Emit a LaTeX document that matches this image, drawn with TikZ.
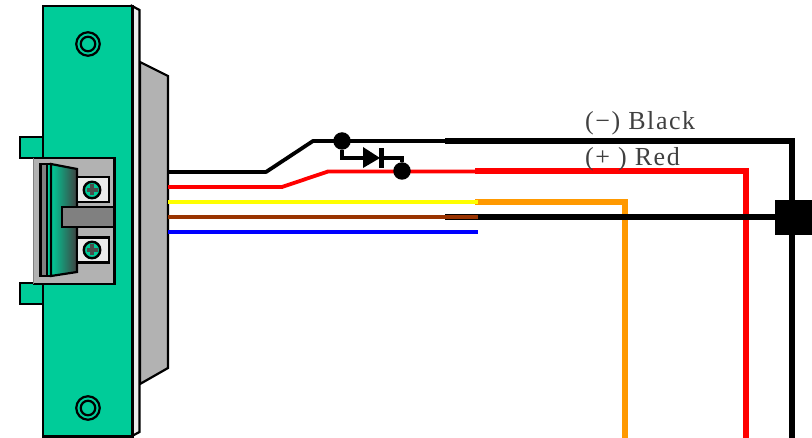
\documentclass[tikz,border=0pt]{standalone}
\usepackage{fontspec}
\setmainfont{Liberation Serif}
\newfontfamily\lblfont[LetterSpace=6]{Liberation Serif}
\definecolor{plate}{HTML}{00CC99}
\definecolor{silver}{HTML}{B2B2B2}
\definecolor{midgray}{HTML}{808080}
\definecolor{pale}{HTML}{EAEAEA}
\definecolor{wbrown}{HTML}{993300}
\definecolor{worange}{HTML}{FF9900}
\definecolor{wred}{HTML}{FF0000}
\definecolor{wyellow}{HTML}{FFFF00}
\definecolor{wblue}{HTML}{0000FF}
\tikzset{
  part/.style={draw=black,line width=2.2pt,miter limit=10},
  thinwire/.style={line width=3.8pt,line join=bevel},
  thickwire/.style={line width=6pt,line join=miter},
  junction/.style={circle,fill=black,inner sep=0pt,minimum size=17.5pt},
  ring/.style={circle,draw=black,line width=2.2pt,inner sep=0pt,fill=plate},
  screwhead/.style={circle,draw=black,line width=2.4pt,fill=plate,inner sep=0pt,minimum size=16.5pt},
  screwbox/.style={part,fill=pale,minimum width=32pt,minimum height=25pt,inner sep=0pt},
  lbl/.style={font=\lblfont\fontsize{26pt}{28pt}\selectfont,text=black!75,anchor=base west,inner sep=0pt},
}
\begin{document}
\begin{tikzpicture}[x=1pt,y=-1pt]
\useasboundingbox (0,0) rectangle (812,438);
% rear housing
\draw[part,fill=silver] (140,62) -- (168,76) -- (168,368) -- (140,384) -- cycle;
% plate
\draw[part,fill=pale] (132,6) -- (139.5,10) -- (139.5,432) -- (132,436) -- cycle;
\draw[part,fill=plate] (43,6) rectangle (132.5,436.5);
% mounting holes
\foreach \n/\y in {topa/44,bota/408}{
  \node[ring,minimum size=23.5pt] (\n) at (88,\y) {};
  \node[ring,minimum size=14.5pt] (\n b) at (88,\y) {};
}
% tabs
\node[part,fill=plate,minimum width=23pt,minimum height=21pt,inner sep=0pt] (tabt) at (31.5,147.5) {};
\node[part,fill=plate,minimum width=23pt,minimum height=21pt,inner sep=0pt] (tabb) at (31.5,293.5) {};
% strike body
\fill[silver] (33.5,158) rectangle (114.5,284);
\draw[black,line width=2.2pt] (33,158) -- (114.5,158) -- (114.5,284) -- (33,284);
\draw[midgray,line width=1.8pt] (33.5,158) -- (33.5,284);
% keeper
\draw[part,fill=midgray] (40.5,164) rectangle (47,276);
\draw[part,fill=plate] (47,164) rectangle (51,276);
\shade[left color=plate,right color=black!75] (51,164) -- (77,169) -- (77,272) -- (51,276) -- cycle;
\draw[part] (51,164) -- (77,169) -- (77,272) -- (51,276) -- cycle;
% screws
\node[screwbox] (sa) at (93,189.5) {};
\node[screwbox] (sb) at (93,250) {};
\foreach \n/\y in {hdA/190,hdB/250}{
  \node[screwhead] (\n) at (92,\y) {};
  \fill[black!70] (86.5,\y-1.8) rectangle (97.5,\y+1.8);
  \fill[black!70] (90,\y-5.5) rectangle (94,\y+5.5);
}
% bar
\node[part,fill=midgray,minimum width=52pt,minimum height=20pt,inner sep=0pt] (bar) at (88,217) {};

% wire waypoints
\coordinate (k0) at (168,172); \coordinate (k1) at (266,172); \coordinate (k2) at (313,141);
\coordinate (k3) at (445,141); \coordinate (k4) at (792,141); \coordinate (k5) at (792,438);
\coordinate (r0) at (168,187); \coordinate (r1) at (282,187); \coordinate (r2) at (328,171.5);
\coordinate (r3) at (475,171.5); \coordinate (r4) at (746,171.5); \coordinate (r5) at (746,438);
\coordinate (y0) at (168,202); \coordinate (y1) at (478,202);
\coordinate (o0) at (475,202); \coordinate (o1) at (625,202); \coordinate (o2) at (625,438);
\coordinate (b0) at (168,217); \coordinate (b1) at (478,217);
\coordinate (c0) at (445,217); \coordinate (c1) at (790,217);
\coordinate (u0) at (168,232); \coordinate (u1) at (478,232);

% thick wires
\draw[thickwire,black] (k3) -- (k4) -- (k5);
\draw[thickwire,worange] (o0) -- (o1) -- (o2);
\draw[thickwire,wred] (r3) -- (r4) -- (r5);
\draw[thickwire,black] (c0) -- (c1);
% thin wires
\draw[thinwire,black] (k0) -- (k1) -- (k2) -- (k3);
\draw[thinwire,wred] (r0) -- (r1) -- (r2) -- (r3);
\draw[thinwire,wyellow] (y0) -- (y1);
\draw[thinwire,wbrown] (b0) -- (b1);
\draw[thinwire,wblue] (u0) -- (u1);
% connector block
\node[fill=black,minimum width=37pt,minimum height=35pt,inner sep=0pt] (block) at (793.5,217.5) {};
% diode
\node[junction] (ja) at (342,141) {};
\node[junction] (jb) at (402,171) {};
\coordinate (d0) at (363,158); \coordinate (d1) at (381,158);
\draw[black,line width=3.5pt,line join=miter] (ja) |- (d0);
\draw[black,line width=3.5pt,line join=miter] (d1) -| (jb);
\fill[black] (363,147) -- (380,158) -- (363,168) -- cycle;
\fill[black] (378.5,148) rectangle (384,168);
% labels
\node[lbl] (lneg) at (585,130) {(−) Black};
\node[lbl] (lpos) at (585,166) {(+ ) Red};
\end{tikzpicture}
\end{document}
